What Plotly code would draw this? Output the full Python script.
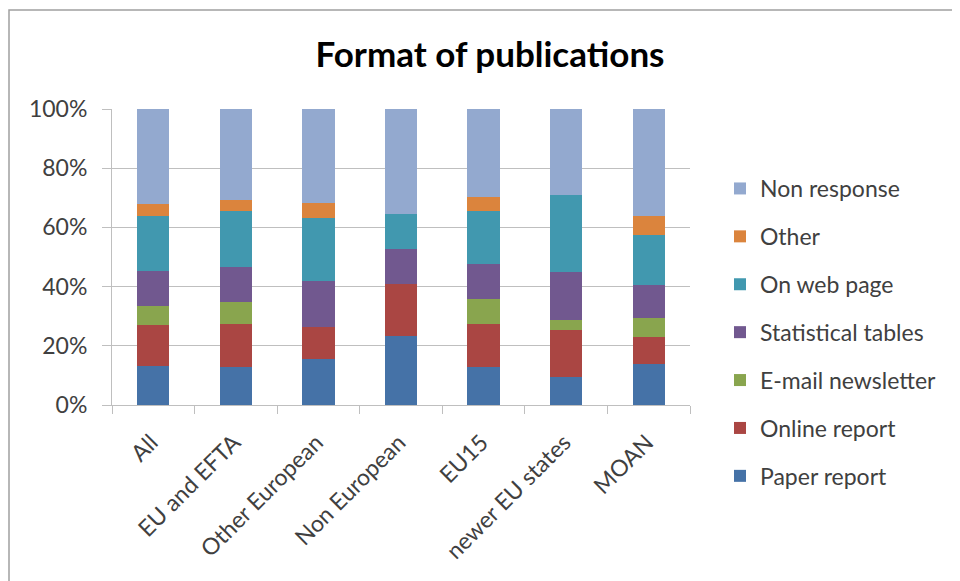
import plotly.graph_objects as go

categories = ["All", "EU and EFTA", "Other European", "Non European", "EU15", "newer EU states", "MOAN"]

paper_report = [13.3, 12.7, 15.5, 23.3, 12.7, 9.4, 13.8]
online_report = [13.6, 14.8, 10.8, 17.7, 14.8, 16.1, 9.3]
email_newsletter = [6.7, 7.4, 0.0, 0.0, 8.3, 3.3, 6.2]
statistical_tables = [11.7, 11.7, 15.5, 11.6, 11.7, 16.2, 11.3]
on_web_page = [18.7, 18.8, 21.3, 11.9, 17.9, 25.9, 17.0]
other = [4.0, 3.9, 5.3, 0.0, 4.8, 0.0, 6.4]
non_response = [32.0, 30.7, 31.6, 35.5, 29.8, 29.1, 36.0]

series = [
    ("Paper report", paper_report, "#4572A7"),
    ("Online report", online_report, "#AA4643"),
    ("E-mail newsletter", email_newsletter, "#89A54E"),
    ("Statistical tables", statistical_tables, "#71588F"),
    ("On web page", on_web_page, "#4198AF"),
    ("Other", other, "#DB843D"),
    ("Non response", non_response, "#93A9CF"),
]

fig = go.Figure()
n = len(series)
for i, (name, vals, color) in enumerate(series):
    fig.add_trace(go.Bar(
        x=categories, y=vals, name=name, marker_color=color,
        marker_line_width=0, legendgroup=f"g{i}", legendrank=n - i,
    ))

font = "Lato, Noto Sans, sans-serif"
txt = "#404040"
# page body has an 8px offset; figure coordinates below account for it
L, T, R, B = 104, 101, 278, 184
PW, PH = 960 - L - R, 581 - T - B
fig.update_layout(
    width=960, height=581,
    barmode="stack", barnorm="percent", bargap=0.61,
    paper_bgcolor="white", plot_bgcolor="white",
    margin=dict(l=L, r=R, t=T, b=B, autoexpand=False),
    title=dict(text="<b>Format of publications</b>", x=482/960, xanchor="center",
               y=1 - 47/581, yanchor="middle",
               font=dict(family=font, size=35, color="#000000")),
    font=dict(family=font, size=22, color=txt),
    legend=dict(x=(712-L)/PW, xanchor="left", y=(T+PH-159)/PH, yanchor="top",
                traceorder="grouped", tracegroupgap=15, maxheight=560,
                font=dict(family=font, size=23, color=txt),
                itemwidth=30),
    showlegend=True,
)
fig.update_yaxes(range=[0, 100], tickvals=[0, 20, 40, 60, 80, 100],
                 ticktext=["0%", "20%", "40%", "60%", "80%", "100%"],
                 showgrid=True, gridcolor="#BFBFBF", gridwidth=1,
                 showline=True, linecolor="#BFBFBF", linewidth=1,
                 ticks="outside", ticklen=9, tickcolor="#BFBFBF", automargin=False,
                 ticklabelstandoff=10,
                 zeroline=False, tickfont=dict(size=23, color=txt))
fig.update_xaxes(showline=True, linecolor="#BFBFBF", linewidth=1, automargin=False,
                 ticks="outside", tickson="boundaries", ticklen=8, tickcolor="#BFBFBF",
                 ticklabelstandoff=14, ticklabelshift=-2,
                 tickangle=-45, tickfont=dict(size=23, color=txt))

fig.add_shape(type="rect", xref="paper", yref="paper",
              x0=(1-L)/PW, x1=(990-L)/PW, y0=(T+PH-620)/PH, y1=(T+PH-2)/PH,
              line=dict(color="#A0A0A0", width=1.5), fillcolor="rgba(0,0,0,0)", layer="below")

fig.write_html("out.html")
